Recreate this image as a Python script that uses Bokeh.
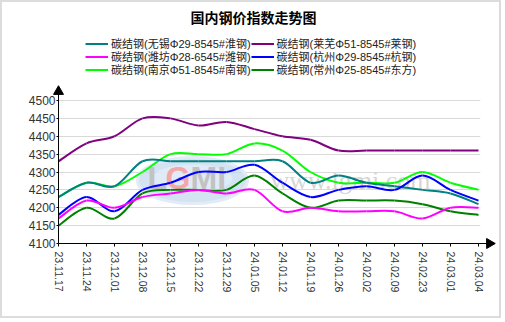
import math
from bokeh.plotting import figure
from bokeh.models import (Range1d, FixedTicker, Legend, LegendItem, Label, ColumnDataSource)
from bokeh.core.properties import value
from bokeh.embed import file_html
from bokeh.resources import INLINE

# ---------------- data ----------------
dates = ["23.11.17", "23.11.24", "23.12.01", "23.12.08", "23.12.15", "23.12.22",
         "23.12.29", "24.01.05", "24.01.12", "24.01.19", "24.01.26", "24.02.02",
         "24.02.09", "24.02.23", "24.03.01", "24.03.04"]

wuxi = [4230, 4270, 4260, 4330, 4330, 4330, 4330, 4330, 4330, 4270, 4290, 4270, 4260, 4250, 4240, 4210]
laiwu = [4330, 4380, 4400, 4450, 4450, 4430, 4440, 4420, 4400, 4390, 4360, 4360, 4360, 4360, 4360, 4360]
weifang = [4170, 4220, 4200, 4230, 4240, 4250, 4240, 4250, 4190, 4200, 4190, 4190, 4190, 4170, 4200, 4200]
hangzhou = [4180, 4230, 4190, 4250, 4270, 4300, 4300, 4320, 4270, 4230, 4250, 4260, 4250, 4290, 4250, 4220]
nanjing = [4230, 4270, 4260, 4300, 4350, 4350, 4350, 4380, 4360, 4300, 4270, 4270, 4270, 4300, 4270, 4250]
changzhou = [4150, 4200, 4170, 4240, 4250, 4250, 4250, 4290, 4240, 4200, 4220, 4220, 4220, 4210, 4190, 4180]

series_names = ["碳结钢(无锡Φ29-8545#淮钢)", "碳结钢(莱芜Φ51-8545#莱钢)",
                "碳结钢(潍坊Φ28-6545#潍钢)", "碳结钢(杭州Φ29-8545#杭钢)",
                "碳结钢(南京Φ51-8545#南钢)", "碳结钢(常州Φ25-8545#东方)"]
series_values = [wuxi, laiwu, weifang, hangzhou, nanjing, changzhou]
series_colors = ["#008080", "#800080", "#ff00ff", "#0000ff", "#00ff00", "#008000"]

y_ticks = list(range(4100, 4501, 50))
title_text = "国内钢价指数走势图"

# ---------------- layout helpers (page pixel -> data) ----------------
X0_PX, DX_PX = 58, 28.0
Y0_PX, Y0_VAL, PX_PER_UNIT = 243, 4100, 0.3575


def px2x(px):
    return (px - X0_PX) / DX_PX


def px2y(py):
    return Y0_VAL + (Y0_PX - py) / PX_PER_UNIT


p = figure(width=501, height=318, output_backend="svg", toolbar_location=None,
           title=None,
           x_range=Range1d(0, px2x(480)), y_range=Range1d(4100, px2y(2)),
           min_border_left=56, min_border_right=23, min_border_top=0, min_border_bottom=77,
           background_fill_color="white", border_fill_color="white")
p.styles = {"border": "2px solid #dcdcdc"}
p.outline_line_color = None

# axes
p.xaxis.ticker = FixedTicker(ticks=list(range(len(dates))))
p.xaxis.major_label_overrides = {i: d for i, d in enumerate(dates)}
p.xaxis.major_label_orientation = "vertical"
p.xaxis.major_label_text_font = "Liberation Sans"
p.xaxis.major_label_text_font_size = "10.5px"
p.xaxis.major_label_text_color = "#333333"
p.xaxis.major_tick_out = 3
p.xaxis.major_tick_in = 0
p.xaxis.minor_tick_line_color = None
p.xaxis.axis_line_color = "black"
p.xaxis.major_label_standoff = 5

p.yaxis.bounds = (4100, px2y(90))
p.yaxis.ticker = FixedTicker(ticks=y_ticks)
p.yaxis.major_label_text_font = "Liberation Sans"
p.yaxis.major_label_text_font_size = "12px"
p.yaxis.major_label_text_color = "#333333"
p.yaxis.major_tick_out = 2
p.yaxis.major_tick_in = 0
p.yaxis.minor_tick_line_color = None
p.yaxis.axis_line_color = "black"
p.yaxis.major_label_standoff = 1

p.xgrid.visible = False
p.ygrid.ticker = FixedTicker(ticks=y_ticks)
p.ygrid.grid_line_color = "#d9d9d9"
p.ygrid.grid_line_width = 1.2

# watermark
p.ellipse(x=[px2x(192)], y=[px2y(180)], width=110 / DX_PX, height=46 / PX_PER_UNIT,
          fill_color="#c6d9ee", fill_alpha=0.75, line_color="#e3ecf6", line_width=3)
p.ellipse(x=[px2x(192)], y=[px2y(178)], width=80 / DX_PX, height=28 / PX_PER_UNIT,
          fill_color="#e6eef8", fill_alpha=0.7, line_color=None)
for txt, px, col in (("L", 147, "#c2c2c2"), ("G", 165, "#f2a8a8"), ("MI", 190, "#c2c2c2")):
    p.text(x=[px2x(px)], y=[px2y(177)], text=[txt], text_font=value("Liberation Sans"),
           text_font_size="32px", text_font_style="bold", text_color=col,
           text_align="left", text_baseline="middle")
p.text(x=[px2x(350)], y=[px2y(180)], text=["www.lgmi.com"], text_font=value("Liberation Serif"),
       text_font_size="26px", text_color="#d6d6d6", text_align="center", text_baseline="middle")


# smooth lines (Catmull-Rom drawn as cubic Bezier segments through the data points)
def bezier_source(xs, ys):
    n = len(xs)
    d = {k: [] for k in ("x0", "y0", "x1", "y1", "cx0", "cy0", "cx1", "cy1")}
    for i in range(n - 1):
        a = i - 1 if i > 0 else i
        b = i + 2 if i + 2 < n else i + 1
        d["x0"].append(xs[i]); d["y0"].append(ys[i])
        d["x1"].append(xs[i + 1]); d["y1"].append(ys[i + 1])
        d["cx0"].append(xs[i] + (xs[i + 1] - xs[a]) / 6.0)
        d["cy0"].append(ys[i] + (ys[i + 1] - ys[a]) / 6.0)
        d["cx1"].append(xs[i + 1] - (xs[b] - xs[i]) / 6.0)
        d["cy1"].append(ys[i + 1] - (ys[b] - ys[i]) / 6.0)
    return ColumnDataSource(d)


xs = list(range(len(dates)))
draw_order = [1, 4, 0, 3, 5, 2]
renderers = {}
for k in draw_order:
    src = bezier_source(xs, series_values[k])
    renderers[k] = p.bezier(x0="x0", y0="y0", x1="x1", y1="y1", cx0="cx0", cy0="cy0",
                            cx1="cx1", cy1="cy1", source=src,
                            line_color=series_colors[k], line_width=2)

# legend: three rows of two entries
for row, ybottom in enumerate((192, 179, 166)):
    row_items = [LegendItem(label=series_names[k], renderers=[renderers[k]])
                 for k in (2 * row, 2 * row + 1)]
    p.add_layout(Legend(items=row_items, location=(27, ybottom), orientation="horizontal",
                        glyph_width=23, glyph_height=13, label_height=13, label_width=139,
                        label_standoff=3, spacing=0, padding=0, margin=0,
                        label_text_font="Liberation Sans, Noto Sans CJK SC",
                        label_text_font_size="11px", label_text_color="#222222",
                        border_line_color=None, background_fill_alpha=0), "center")

# title
p.add_layout(Label(x=px2x(253), y=px2y(16), text=title_text, text_align="center",
                   text_baseline="middle", text_font="Noto Sans CJK SC",
                   text_font_size="14px", text_font_style="bold", text_color="black"))

# axis arrow heads (drawn above the frame clip)
p.scatter(x=[0], y=[px2y(91)], marker="triangle", size=10, fill_color="black",
          line_color="black", level="overlay")
p.segment(x0=[px2x(478)], y0=[4100], x1=[px2x(488)], y1=[4100], line_color="black",
          line_width=1, level="overlay")
p.scatter(x=[px2x(489)], y=[4100], marker="triangle", size=10, angle=-math.pi / 2,
          fill_color="black", line_color="black", level="overlay")

open("out.html", "w").write(file_html(p, INLINE))
